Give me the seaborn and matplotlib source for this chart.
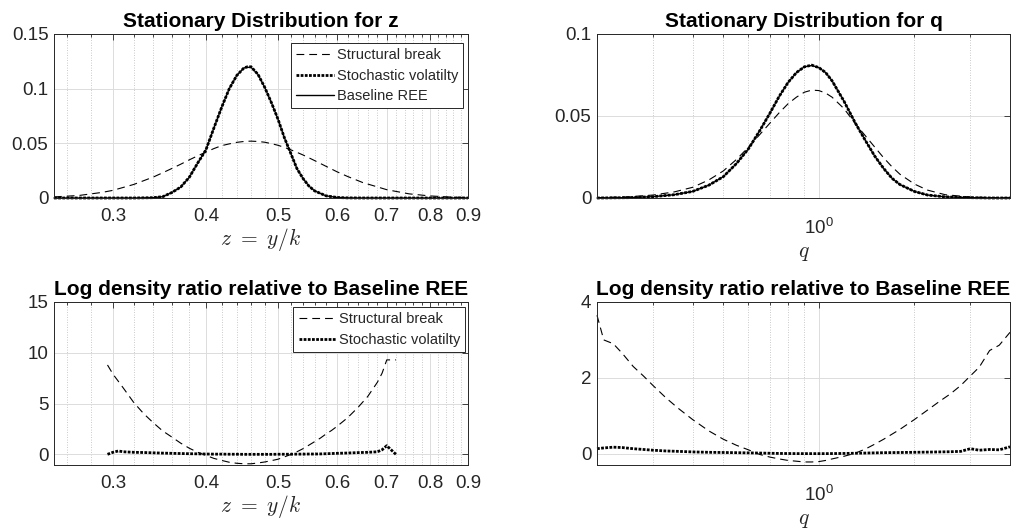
import matplotlib
matplotlib.use("Agg")
import matplotlib.pyplot as plt
import numpy as np
import pandas as pd
import seaborn as sns
from matplotlib.ticker import FixedLocator, FixedFormatter, NullFormatter, LogLocator, LogFormatterSciNotation

# ---------------- data ----------------
z_grid = [0.25, 0.27, 0.29, 0.30, 0.32, 0.34, 0.35, 0.36, 0.37, 0.38, 0.39, 0.40,
          0.41, 0.42, 0.43, 0.44, 0.45, 0.455, 0.46, 0.47, 0.48, 0.49, 0.50, 0.51, 0.52,
          0.53, 0.54, 0.55, 0.56, 0.58, 0.60, 0.62, 0.65, 0.70, 0.75, 0.80, 0.85, 0.90]
z_break = [0.0010, 0.0023, 0.0051, 0.0070, 0.0124, 0.0192, 0.0231, 0.0270, 0.0309, 0.0349,
           0.0386, 0.0420, 0.0452, 0.0479, 0.0495, 0.0509, 0.0517, 0.0519, 0.0520, 0.0517,
           0.0510, 0.0497, 0.0482, 0.0463, 0.0441, 0.0418, 0.0394, 0.0368, 0.0342, 0.0290,
           0.0240, 0.0197, 0.0141, 0.0076, 0.0038, 0.0019, 0.0009, 0.0004]
z_sv = [0.0, 0.0, 0.0, 0.0, 0.0, 0.0003, 0.0012, 0.0050, 0.0100, 0.0190, 0.0320, 0.0440,
        0.0640, 0.0830, 0.1000, 0.1120, 0.1190, 0.1200, 0.1200, 0.1130, 0.1010, 0.0870,
        0.0720, 0.0550, 0.0410, 0.0270, 0.0180, 0.0110, 0.0065, 0.0020, 0.0005, 0.0001,
        0.0, 0.0, 0.0, 0.0, 0.0, 0.0]
z_base = [0.0, 0.0, 0.0, 0.0, 0.0, 0.0003, 0.0012, 0.0050, 0.0100, 0.0190, 0.0320, 0.0440,
          0.0640, 0.0830, 0.1000, 0.1120, 0.1190, 0.1195, 0.1195, 0.1130, 0.1010, 0.0870,
          0.0720, 0.0550, 0.0410, 0.0270, 0.0180, 0.0110, 0.0065, 0.0020, 0.0005, 0.0001,
          0.0, 0.0, 0.0, 0.0, 0.0, 0.0]

q_grid = [0.2, 0.25, 0.3, 0.35, 0.4, 0.45, 0.5, 0.55, 0.6, 0.65, 0.7, 0.75, 0.8, 0.85,
          0.9, 0.95, 1.0, 1.05, 1.1, 1.2, 1.3, 1.4, 1.5, 1.6, 1.7, 1.8, 2.0, 2.2, 2.5,
          3.0, 3.5, 4.0]
q_break = [0.0002, 0.0007, 0.0018, 0.0037, 0.0065, 0.0110, 0.0165, 0.0235, 0.0310, 0.0385,
           0.0455, 0.0520, 0.0575, 0.0615, 0.0645, 0.0658, 0.0655, 0.0640, 0.0615, 0.0545,
           0.0455, 0.0380, 0.0310, 0.0245, 0.0190, 0.0145, 0.0085, 0.0048, 0.0020, 0.0006,
           0.0002, 0.0001]
q_sv = [0.0, 0.0002, 0.0008, 0.0020, 0.0040, 0.0078, 0.0130, 0.0210, 0.0300, 0.0408,
        0.0515, 0.0620, 0.0705, 0.0765, 0.0800, 0.0810, 0.0795, 0.0765, 0.0715, 0.0590,
        0.0460, 0.0352, 0.0255, 0.0180, 0.0120, 0.0082, 0.0040, 0.0018, 0.0007, 0.0002,
        0.0, 0.0]
q_base = [0.0, 0.0002, 0.0008, 0.0020, 0.0040, 0.0078, 0.0130, 0.0210, 0.0300, 0.0408,
          0.0515, 0.0620, 0.0705, 0.0765, 0.0800, 0.0808, 0.0795, 0.0765, 0.0715, 0.0590,
          0.0460, 0.0352, 0.0255, 0.0180, 0.0120, 0.0082, 0.0040, 0.0018, 0.0007, 0.0002,
          0.0, 0.0]

zr_grid = [0.295, 0.30, 0.305, 0.31, 0.32, 0.33, 0.34, 0.35, 0.36, 0.37, 0.38, 0.39, 0.40,
           0.41, 0.42, 0.43, 0.44, 0.45, 0.46, 0.47, 0.48, 0.49, 0.50, 0.51, 0.52, 0.53,
           0.54, 0.55, 0.56, 0.57, 0.58, 0.59, 0.60, 0.62, 0.64, 0.66, 0.68, 0.69, 0.70, 0.72]
zr_break = [8.8, 7.9, 7.2, 6.5, 5.1, 4.0, 3.1, 2.3, 1.7, 1.1, 0.6, 0.2, -0.1, -0.4, -0.6,
            -0.78, -0.88, -0.93, -0.93, -0.85, -0.75, -0.62, -0.48, -0.25, -0.02, 0.25,
            0.55, 0.9, 1.25, 1.6, 2.0, 2.35, 2.75, 3.6, 4.6, 5.7, 7.1, 8.0, 9.3, 9.3]
zr_sv = [0.0, 0.2, 0.33, 0.25, 0.2, 0.18, 0.15, 0.12, 0.1, 0.08, 0.06, 0.05, 0.03, 0.02,
         0.02, 0.01, 0.01, 0.0, 0.0, 0.0, 0.0, 0.0, 0.01, 0.01, 0.01, 0.02, 0.02, 0.03,
         0.03, 0.04, 0.06, 0.08, 0.1, 0.13, 0.17, 0.2, 0.25, 0.45, 0.85, 0.0]

qr_grid = [0.2, 0.21, 0.225, 0.24, 0.26, 0.28, 0.3, 0.33, 0.36, 0.4, 0.45, 0.5, 0.55, 0.6,
           0.65, 0.7, 0.75, 0.8, 0.85, 0.9, 0.95, 1.0, 1.05, 1.1, 1.2, 1.3, 1.4, 1.5, 1.6,
           1.8, 2.0, 2.2, 2.4, 2.6, 2.8, 3.0, 3.2, 3.45, 3.7, 4.0]
qr_break = [3.65, 3.0, 2.9, 2.65, 2.3, 2.05, 1.8, 1.47, 1.2, 0.9, 0.6, 0.38, 0.22, 0.1,
            -0.02, -0.09, -0.14, -0.18, -0.2, -0.22, -0.22, -0.21, -0.18, -0.14, -0.07,
            0.01, 0.12, 0.25, 0.38, 0.64, 0.9, 1.15, 1.38, 1.58, 1.8, 2.05, 2.28, 2.72,
            2.86, 3.2]
qr_sv = [0.13, 0.15, 0.17, 0.16, 0.13, 0.11, 0.09, 0.07, 0.06, 0.045, 0.035, 0.03, 0.025,
         0.02, 0.015, 0.01, 0.005, 0.003, 0.001, 0.0, 0.0, 0.0, 0.0, 0.002, 0.005, 0.01,
         0.015, 0.02, 0.025, 0.03, 0.035, 0.04, 0.045, 0.05, 0.06, 0.13, 0.09, 0.11, 0.1,
         0.18]

labels = ["Structural break", "Stochastic volatilty", "Baseline REE"]
titles = ["Stationary Distribution for z", "Stationary Distribution for q",
          "Log density ratio relative to Baseline REE", "Log density ratio relative to Baseline REE"]
z_ticks = [0.3, 0.4, 0.5, 0.6, 0.7, 0.8, 0.9]
z_ticklabels = ["0.3", "0.4", "0.5", "0.6", "0.7", "0.8", "0.9"]
z_minor = [0.26, 0.28, 0.32, 0.34, 0.36, 0.38, 0.42, 0.44, 0.46, 0.48, 0.52, 0.54, 0.56,
           0.58, 0.62, 0.64, 0.66, 0.68, 0.72, 0.74, 0.76, 0.78, 0.82, 0.84, 0.86, 0.88]

# ---------------- style ----------------
sns.set_style("white")
plt.rcParams["font.family"] = ["Liberation Sans", "DejaVu Sans"]
plt.rcParams["mathtext.fontset"] = "cm"

DARK = "#262626"
W, H = 1016, 529
fig = plt.figure(figsize=(W / 100, H / 100), dpi=100)


def box(l, t, r, b):
    return [l / W, 1 - b / H, (r - l) / W, (b - t) / H]


ax_tl = fig.add_axes(box(54, 34, 468, 198))
ax_tr = fig.add_axes(box(597, 34, 1010, 198))
ax_bl = fig.add_axes(box(54, 302, 468, 465))
ax_br = fig.add_axes(box(597, 302, 1010, 465))

dash_kw = dict(color="black", linewidth=0.8, linestyle=(0, (7, 4.5)))
sv_kw = dict(color="black", linewidth=2.0, linestyle=(0, (1.0, 0.5)))
base_kw = dict(color="black", linewidth=1.0, linestyle="-")


def draw(ax, x, series, kws, labs):
    lines = []
    for y, kw, lab in zip(series, kws, labs):
        df = pd.DataFrame({"x": x, "y": y})
        sns.lineplot(data=df, x="x", y="y", ax=ax, estimator=None, sort=False,
                     legend=False, clip_on=False, **kw)
        ax.lines[-1].set_label(lab)
        lines.append(ax.lines[-1])
    return lines


h_tl = draw(ax_tl, z_grid, [z_break, z_sv, z_base], [dash_kw, sv_kw, base_kw], labels)
draw(ax_tr, q_grid, [q_break, q_sv, q_base], [dash_kw, sv_kw, base_kw], labels)
h_bl = draw(ax_bl, zr_grid, [zr_break, zr_sv], [dash_kw, sv_kw], labels[:2])
draw(ax_br, qr_grid, [qr_break, qr_sv], [dash_kw, sv_kw], labels[:2])

for ax in [ax_tl, ax_tr, ax_bl, ax_br]:
    ax.set_xscale("log")
    for s in ax.spines.values():
        s.set_color(DARK)
        s.set_linewidth(0.7)
        s.set_visible(True)
    ax.tick_params(which="both", direction="in", top=True, right=True, color=DARK,
                   labelcolor=DARK, labelsize=13.5, width=0.6)
    ax.tick_params(which="major", length=4, pad=7)
    ax.tick_params(which="minor", length=2.5)
    ax.tick_params(axis="y", pad=4)
    ax.grid(True, which="major", color="#dcdcdc", linewidth=0.7, linestyle="-")
    ax.grid(True, which="minor", axis="x", color="#b8b8b8", linewidth=0.6, linestyle=(0, (1, 2)))
    ax.set_axisbelow(True)
    ax.set_ylabel("")

for ax in [ax_tl, ax_bl]:
    ax.set_xlim(0.25, 0.9)
    ax.xaxis.set_major_locator(FixedLocator(z_ticks))
    ax.xaxis.set_major_formatter(FixedFormatter(z_ticklabels))
    ax.xaxis.set_minor_locator(FixedLocator(z_minor))
    ax.xaxis.set_minor_formatter(NullFormatter())
    ax.set_xlabel(r"$z\ =\ y/k$", fontsize=15.5, labelpad=1, color=DARK)

for ax in [ax_tr, ax_br]:
    ax.set_xlim(0.2, 4.0)
    ax.xaxis.set_major_locator(LogLocator(base=10, numticks=10))
    ax.xaxis.set_major_formatter(LogFormatterSciNotation())
    ax.xaxis.set_minor_locator(LogLocator(base=10, subs=np.arange(2, 10), numticks=20))
    ax.xaxis.set_minor_formatter(NullFormatter())
    ax.tick_params(axis="x", which="major", pad=14)
    ax.set_xlabel(r"$q$", fontsize=15.5, labelpad=3, color=DARK)

ax_tl.set_ylim(0, 0.15)
ax_tl.set_yticks([0, 0.05, 0.1, 0.15], ["0", "0.05", "0.1", "0.15"])
ax_tr.set_ylim(0, 0.1)
ax_tr.set_yticks([0, 0.05, 0.1], ["0", "0.05", "0.1"])
ax_bl.set_ylim(-1.05, 15)
ax_bl.set_yticks([0, 5, 10, 15], ["0", "5", "10", "15"])
ax_br.set_ylim(-0.3, 4)
ax_br.set_yticks([0, 2, 4], ["0", "2", "4"])

for ax, t in zip([ax_tl, ax_tr, ax_bl, ax_br], titles):
    ax.set_title(t, fontsize=15, fontweight="bold", pad=5, color="black")

leg_kw = dict(loc="upper right", borderaxespad=0, fontsize=10.5, frameon=True,
              fancybox=False, framealpha=1, edgecolor=DARK, handlelength=2.6,
              handletextpad=0.15, labelspacing=0.45, borderpad=0.35)
lg = ax_tl.legend(handles=h_tl, bbox_to_anchor=(0.988, 0.945), **leg_kw)
lg.get_frame().set_linewidth(0.7)
lg2 = ax_bl.legend(handles=h_bl, bbox_to_anchor=(0.993, 0.969), **leg_kw)
lg2.get_frame().set_linewidth(0.7)

fig.savefig("out.png", dpi=100, facecolor="white")
